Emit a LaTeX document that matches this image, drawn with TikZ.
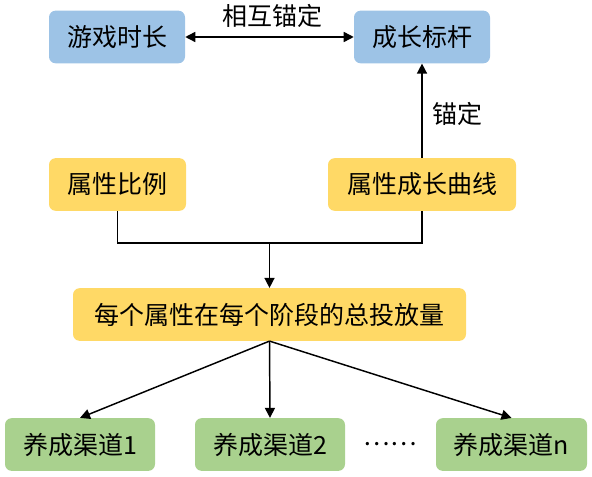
\documentclass[tikz,border=0pt]{standalone}
\usepackage{fontspec}
\setmainfont{Noto Sans CJK SC}
\usetikzlibrary{arrows.meta}
\definecolor{fblue}{HTML}{9DC3E6}
\definecolor{fyellow}{HTML}{FFD966}
\definecolor{fgreen}{HTML}{A9D18E}
\definecolor{sline}{HTML}{000000}

\tikzset{
  >={Triangle[length=7.5pt,width=7.5pt]},
  box/.style={rectangle,rounded corners=5pt,minimum height=39.5pt,inner sep=0pt,
    font=\fontsize{18.75}{22}\selectfont},
  bluebox/.style={box,fill=fblue},
  yellowbox/.style={box,fill=fyellow},
  greenbox/.style={box,fill=fgreen,minimum width=112.5pt},
  lbl/.style={font=\fontsize{18.75}{22}\selectfont,inner sep=0pt},
  link/.style={draw=sline,line width=1.1pt},
  arr/.style={link,->},
  dblarr/.style={link,<->}
}

\begin{document}
\begin{tikzpicture}[x=0.75pt,y=-0.75pt]
\useasboundingbox (0,0) rectangle (592,477);
\node[bluebox,minimum width=102pt] (shi) at (117,37) {游戏时长};
\node[bluebox,minimum width=102pt] (biao) at (422,37) {成长标杆};
\node[yellowbox,minimum width=102.75pt] (bili) at (117.5,184.5) {属性比例};
\node[yellowbox,minimum width=141pt] (quxian) at (422,184.5) {属性成长曲线};
\node[yellowbox,minimum width=294.75pt] (zong) at (269.5,314.5) {每个属性在每个阶段的总投放量};
\node[greenbox] (qd1) at (80,444.5) {养成渠道1};
\node[greenbox] (qd2) at (270,444.5) {养成渠道2};
\node[greenbox,minimum width=113.25pt] (qdn) at (511.5,444.5) {养成渠道n};
\node[lbl] (dian) at (390,444.5) {……};
\node[lbl] (huxiang) at (272,16) {相互锚定};
\node[lbl] (maoding) at (457,114) {锚定};
\coordinate (he) at (269.5,243);
\draw[dblarr] (shi) -- (biao);
\draw[arr] (quxian.north) -- (biao.south);
\draw[link] (bili.south) |- (he) -| (quxian.south);
\draw[arr] (he) -- (zong.north);
\draw[arr] (zong.south) -- (qd1.north);
\draw[arr] (zong.south) -- (qd2.north);
\draw[arr] (zong.south) -- (qdn.north);
\end{tikzpicture}
\end{document}
